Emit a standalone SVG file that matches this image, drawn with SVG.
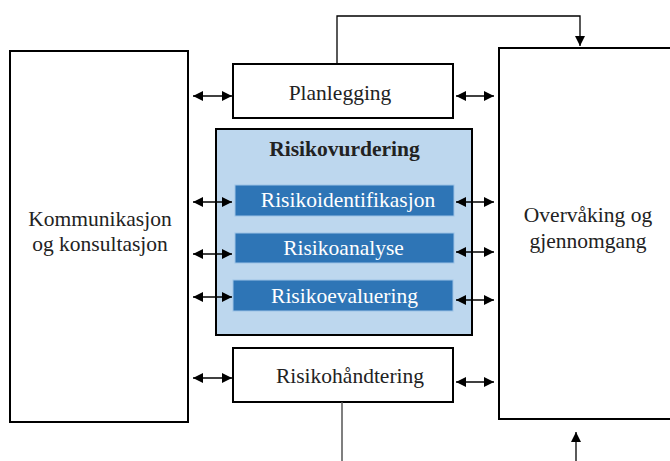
<svg xmlns="http://www.w3.org/2000/svg" width="670" height="461" viewBox="0 0 670 461">
<defs>
<marker id="ah" viewBox="0 0 10 10" refX="10" refY="5" markerWidth="10" markerHeight="10" markerUnits="userSpaceOnUse" orient="auto-start-reverse">
<path d="M0,0 L10,5 L0,10 z" fill="#000"/>
</marker>
<style>
.box{fill:#fff;stroke:#000;stroke-width:2}
.t{font-family:"Liberation Serif","Times New Roman",serif;font-size:21.5px;fill:#222;text-anchor:middle}
.w{fill:#fff}
.sub{fill:#2E75B6;stroke:#9DC3E6;stroke-width:1}
.c{fill:none;stroke:#000;stroke-width:1.3}
.dbl{fill:none;stroke:#000;stroke-width:1.5;marker-start:url(#ah);marker-end:url(#ah)}
</style>
</defs>
<rect width="670" height="461" fill="#fff"/>
<g id="kommunikasjon">
<rect class="box" x="10" y="51" width="178" height="371"/>
<text class="t" x="100" y="226">Kommunikasjon</text>
<text class="t" x="100" y="251">og konsultasjon</text>
</g>
<g id="overvaking">
<rect class="box" x="499" y="48" width="180" height="371"/>
<text class="t" x="588" y="222">Overvåking og</text>
<text class="t" x="588" y="248">gjennomgang</text>
</g>
<g id="planlegging">
<rect class="box" x="233" y="64" width="220" height="54"/>
<text class="t" x="340" y="100">Planlegging</text>
</g>
<g id="risikovurdering">
<rect x="216" y="129" width="256" height="206" fill="#BDD7EE" stroke="#000" stroke-width="2"/>
<text class="t" x="344.5" y="156" font-weight="bold" fill="#000">Risikovurdering</text>
</g>
<g id="risikoidentifikasjon">
<rect class="sub" x="235" y="185" width="219" height="31"/>
<text class="t w" x="348" y="207">Risikoidentifikasjon</text>
</g>
<g id="risikoanalyse">
<rect class="sub" x="235" y="233" width="219" height="30"/>
<text class="t w" x="343.5" y="255">Risikoanalyse</text>
</g>
<g id="risikoevaluering">
<rect class="sub" x="233" y="280" width="220" height="31"/>
<text class="t w" x="344.5" y="303">Risikoevaluering</text>
</g>
<g id="risikohandtering">
<rect class="box" x="233" y="348" width="220" height="54"/>
<text class="t" x="350" y="383">Risikohåndtering</text>
</g>
<g id="connectors">
<path class="c" d="M337,64 V16 H580 V46" marker-end="url(#ah)"/>
<path d="M342,402 V461" fill="none" stroke="#555" stroke-width="1.5"/>
<path class="c" d="M576,461 V432" marker-end="url(#ah)"/>
<line class="dbl" x1="193" y1="96" x2="232" y2="96"/>
<line class="dbl" x1="193" y1="202" x2="232" y2="202"/>
<line class="dbl" x1="193" y1="254" x2="232" y2="254"/>
<line class="dbl" x1="193" y1="297" x2="232" y2="297"/>
<line class="dbl" x1="193" y1="378" x2="232" y2="378"/>
<line class="dbl" x1="456" y1="96" x2="494" y2="96"/>
<line class="dbl" x1="456" y1="202" x2="494" y2="202"/>
<line class="dbl" x1="456" y1="252" x2="494" y2="252"/>
<line class="dbl" x1="456" y1="300" x2="494" y2="300"/>
<line class="dbl" x1="456" y1="382" x2="494" y2="382"/>
</g>
</svg>
